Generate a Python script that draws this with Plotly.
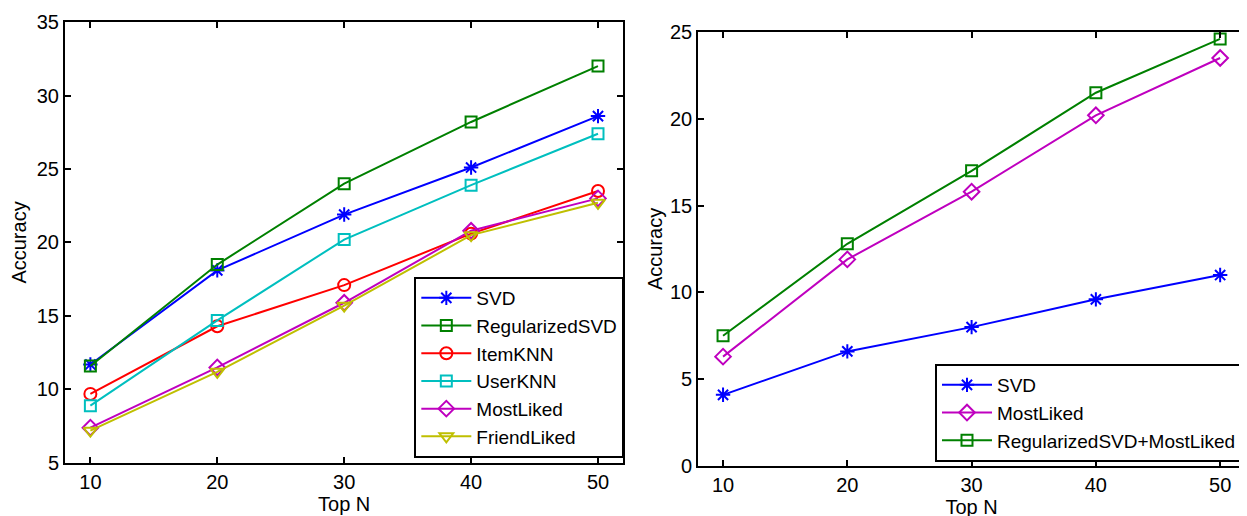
import plotly.graph_objects as go

top_n = [10, 20, 30, 40, 50]

# Left panel
svd_l = [11.7, 18.1, 21.9, 25.1, 28.6]
regsvd_l = [11.6, 18.5, 24.0, 28.2, 32.0]
itemknn_l = [9.7, 14.3, 17.1, 20.6, 23.5]
userknn_l = [8.9, 14.7, 20.2, 23.9, 27.4]
mostliked_l = [7.4, 11.5, 15.9, 20.8, 23.0]
friendliked_l = [7.2, 11.2, 15.7, 20.5, 22.7]

# Right panel
svd_r = [4.1, 6.6, 8.0, 9.6, 11.0]
mostliked_r = [6.3, 11.9, 15.8, 20.2, 23.5]
regsvd_ml_r = [7.5, 12.8, 17.0, 21.5, 24.6]

left_ticks_y = [5, 10, 15, 20, 25, 30, 35]
right_ticks_y = [0, 5, 10, 15, 20, 25]

BLUE = "rgb(0,0,255)"
GREEN = "rgb(0,128,0)"
RED = "rgb(255,0,0)"
CYAN = "rgb(0,191,191)"
MAGENTA = "rgb(191,0,191)"
OLIVE = "rgb(191,191,0)"

FONT = "Liberation Sans, Arial, sans-serif"

fig = go.Figure()

def add(x, y, name, color, symbol, xa, ya, legend, size=11):
    fig.add_trace(go.Scatter(
        x=x, y=y, name=name, mode="lines+markers",
        line=dict(color=color, width=2),
        marker=dict(symbol=symbol, size=size, color=color,
                    line=dict(color=color, width=2)),
        xaxis=xa, yaxis=ya, legend=legend,
    ))

add(top_n, svd_l, "SVD", BLUE, "asterisk-open", "x", "y", "legend", 12)
add(top_n, regsvd_l, "RegularizedSVD", GREEN, "square-open", "x", "y", "legend")
add(top_n, itemknn_l, "ItemKNN", RED, "circle-open", "x", "y", "legend", 12)
add(top_n, userknn_l, "UserKNN", CYAN, "square-open", "x", "y", "legend")
add(top_n, mostliked_l, "MostLiked", MAGENTA, "diamond-open", "x", "y", "legend", 12)
add(top_n, friendliked_l, "FriendLiked", OLIVE, "triangle-down-open", "x", "y", "legend", 12)

add(top_n, svd_r, "SVD", BLUE, "asterisk-open", "x2", "y2", "legend2", 12)
add(top_n, mostliked_r, "MostLiked", MAGENTA, "diamond-open", "x2", "y2", "legend2", 12)
add(top_n, regsvd_ml_r, "RegularizedSVD+MostLiked", GREEN, "square-open", "x2", "y2", "legend2")

axis_common = dict(
    showline=True, linecolor="black", linewidth=2, mirror="ticks",
    ticks="inside", ticklen=6, tickwidth=2, tickcolor="black",
    showgrid=False, zeroline=False, automargin=False,
    tickfont=dict(family=FONT, size=20, color="black"),
)

legend_common = dict(
    xanchor="right", yanchor="bottom",
    bgcolor="white", bordercolor="black", borderwidth=2,
    font=dict(family=FONT, size=19, color="black"),
    tracegroupgap=0, itemwidth=50,
)

fig.update_layout(
    width=1247, height=516,
    margin=dict(l=57, r=10, t=14, b=58),
    paper_bgcolor="white", plot_bgcolor="white",
    font=dict(family=FONT, size=20, color="black"),
    xaxis=dict(domain=[0, 0.4732], range=[8, 52], tickvals=top_n,
               title=dict(text="Top N", standoff=2, font=dict(size=20)), anchor="y",
               **axis_common),
    yaxis=dict(domain=[0.0068, 1.0], range=[5, 35], tickvals=left_ticks_y,
               title=dict(text="Accuracy", standoff=6, font=dict(size=20)), anchor="x",
               **axis_common),
    xaxis2=dict(domain=[0.5366, 1.0], range=[8, 52], tickvals=top_n,
                title=dict(text="Top N", standoff=0, font=dict(size=20)), anchor="y2",
                **axis_common),
    yaxis2=dict(domain=[0.0, 0.9775], range=[0, 25], tickvals=right_ticks_y,
                title=dict(text="Accuracy", standoff=2, font=dict(size=20)), anchor="x2",
                **axis_common),
    legend=dict(x=0.474, y=0.018, **legend_common),
    legend2=dict(x=0.9983, y=0.009, **legend_common),
    showlegend=True,
)

fig.write_html("out.html")
